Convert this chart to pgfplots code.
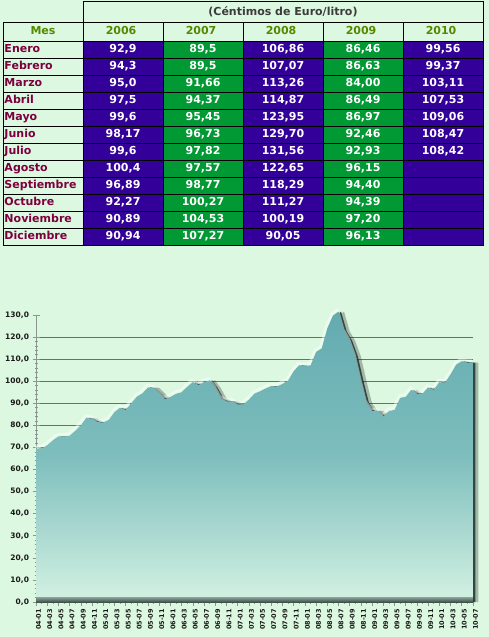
\documentclass[border=0pt]{standalone}
\usepackage{pgfplots}
\pgfplotsset{compat=1.18}
\usepackage{pgfplotstable}
\usepackage{fontspec}
\setmainfont{DejaVu Sans}
\usetikzlibrary{matrix}

\definecolor{fondo}{RGB}{221,248,225}
\definecolor{morado}{RGB}{51,0,153}
\definecolor{verde}{RGB}{0,153,51}
\definecolor{mescol}{RGB}{125,0,62}
\definecolor{anocol}{RGB}{85,136,0}
\definecolor{titcol}{RGB}{60,60,60}
\definecolor{areatop}{RGB}{99,171,176}
\definecolor{areamid}{RGB}{126,190,189}
\definecolor{areabot}{RGB}{212,242,227}
\definecolor{sombra}{RGB}{25,42,38}
\definecolor{gridcol}{RGB}{105,112,108}
\definecolor{ejecol}{RGB}{140,150,145}
\definecolor{labcol}{RGB}{25,25,25}

% precio medio mensual, 2004-01 ... 2010-07 (centimos de euro/litro)
\pgfplotstableread{
p
69.5
69.5
71.0
73.2
75.0
75.0
75.3
77.5
80.0
83.5
83.0
81.5
81.3
82.5
86.0
88.0
87.0
90.0
93.0
94.5
97.2
97.0
94.5
91.8
92.9
94.3
95.0
97.5
99.6
98.17
99.6
100.4
96.89
92.27
90.89
90.94
89.5
89.5
91.66
94.37
95.45
96.73
97.82
97.57
98.77
100.27
104.53
107.27
106.86
107.07
113.26
114.87
123.95
129.70
131.56
122.65
118.29
111.27
100.19
90.05
86.46
86.63
84.00
86.49
86.97
92.46
92.93
96.15
94.40
94.39
97.20
96.13
99.56
99.37
103.11
107.53
109.06
108.47
108.42
}\precio

\begin{document}
\begin{tikzpicture}
\fill[fondo] (0pt,0pt) rectangle (489pt,-637pt);

% cabecera de la tabla
\draw[line width=0.8pt, fill=fondo] (83pt,-1pt) rectangle (483pt,-22pt);
\node[font=\bfseries\fontsize{11}{13}\selectfont, text=titcol] at (283pt,-11.5pt) {(Céntimos de Euro/litro)};

\matrix[matrix of nodes, anchor=north west, inner sep=0pt, outer sep=0pt,
  column sep=-0.8pt, row sep=-0.8pt, nodes in empty cells,
  nodes={draw=black, line width=0.8pt, inner sep=0pt, outer sep=0pt,
    minimum width=80pt, minimum height=17pt, text height=8pt, text depth=2pt,
    font=\bfseries\fontsize{11}{13}\selectfont, text=white, anchor=center},
  column 1/.style={nodes={fill=fondo, text=mescol, text width=77pt, align=left}},
  column 2/.style={nodes={fill=morado}},
  column 3/.style={nodes={fill=verde}},
  column 4/.style={nodes={fill=morado}},
  column 5/.style={nodes={fill=verde}},
  column 6/.style={nodes={fill=morado}},
  row 1/.style={nodes={fill=fondo, text=anocol, minimum height=19pt, align=center}}
] at (2.6pt,-21.6pt) {
Mes & 2006 & 2007 & 2008 & 2009 & 2010 \\
Enero & 92,9 & 89,5 & 106,86 & 86,46 & 99,56 \\
Febrero & 94,3 & 89,5 & 107,07 & 86,63 & 99,37 \\
Marzo & 95,0 & 91,66 & 113,26 & 84,00 & 103,11 \\
Abril & 97,5 & 94,37 & 114,87 & 86,49 & 107,53 \\
Mayo & 99,6 & 95,45 & 123,95 & 86,97 & 109,06 \\
Junio & 98,17 & 96,73 & 129,70 & 92,46 & 108,47 \\
Julio & 99,6 & 97,82 & 131,56 & 92,93 & 108,42 \\
Agosto & 100,4 & 97,57 & 122,65 & 96,15 & \\
Septiembre & 96,89 & 98,77 & 118,29 & 94,40 & \\
Octubre & 92,27 & 100,27 & 111,27 & 94,39 & \\
Noviembre & 90,89 & 104,53 & 100,19 & 97,20 & \\
Diciembre & 90,94 & 107,27 & 90,05 & 96,13 & \\
};

\begin{axis}[
  at={(36pt,-602pt)}, anchor=south west,
  scale only axis, width=437pt, height=287pt,
  xmin=0, xmax=78, ymin=0, ymax=130,
  clip=false,
  axis lines*=left,
  axis line style={draw=ejecol, line width=0.8pt},
  xtick={0,2,...,78},
  xticklabels={04-01,04-03,04-05,04-07,04-09,04-11,
    05-01,05-03,05-05,05-07,05-09,05-11,
    06-01,06-03,06-05,06-07,06-09,06-11,
    07-01,07-03,07-05,07-07,07-09,07-11,
    08-01,08-03,08-05,08-07,08-09,08-11,
    09-01,09-03,09-05,09-07,09-09,09-11,
    10-01,10-03,10-05,10-07},
  minor xtick={1,3,...,77},
  ytick={0,10,...,120},
  extra y ticks={130}, extra y tick style={grid=none},
  minor y tick num=4,
  ymajorgrids,
  grid style={draw=gridcol, line width=0.8pt},
  tick style={draw=ejecol, line width=0.6pt},
  tick align=center,
  major tick length=7pt, minor tick length=3pt,
  /pgf/number format/.cd, fixed, fixed zerofill, precision=1, use comma,
  assume math mode=true,
  /pgfplots/.cd,
  ticklabel style={text=labcol},
  yticklabel style={font=\bfseries\fontsize{7.5}{9}\selectfont},
  xticklabel style={font=\bfseries\fontsize{6.5}{8}\selectfont, xshift=2.5pt, rotate=90, anchor=east},
]
% sombra
\addplot[draw=none, fill=sombra, fill opacity=0.3, xshift=5.5pt]
  table[x expr=\coordindex, y=p] {\precio} \closedcycle;
\addplot[draw=none, fill=sombra, fill opacity=0.8, xshift=2.5pt]
  table[x expr=\coordindex, y=p] {\precio} \closedcycle;
% brillo
\addplot[draw=white, draw opacity=0.45, line width=2.5pt, xshift=-1pt, yshift=2pt]
  table[x expr=\coordindex, y=p] {\precio};
% area
\addplot[draw=none, top color=areatop, bottom color=areabot, middle color=areamid]
  table[x expr=\coordindex, y=p] {\precio} \closedcycle;
% base
\addplot[draw=none, top color=sombra!40!areabot, bottom color=sombra!80!areabot]
  coordinates {(0,2.2) (78,2.2)} \closedcycle;
\end{axis}
\end{tikzpicture}
\end{document}
